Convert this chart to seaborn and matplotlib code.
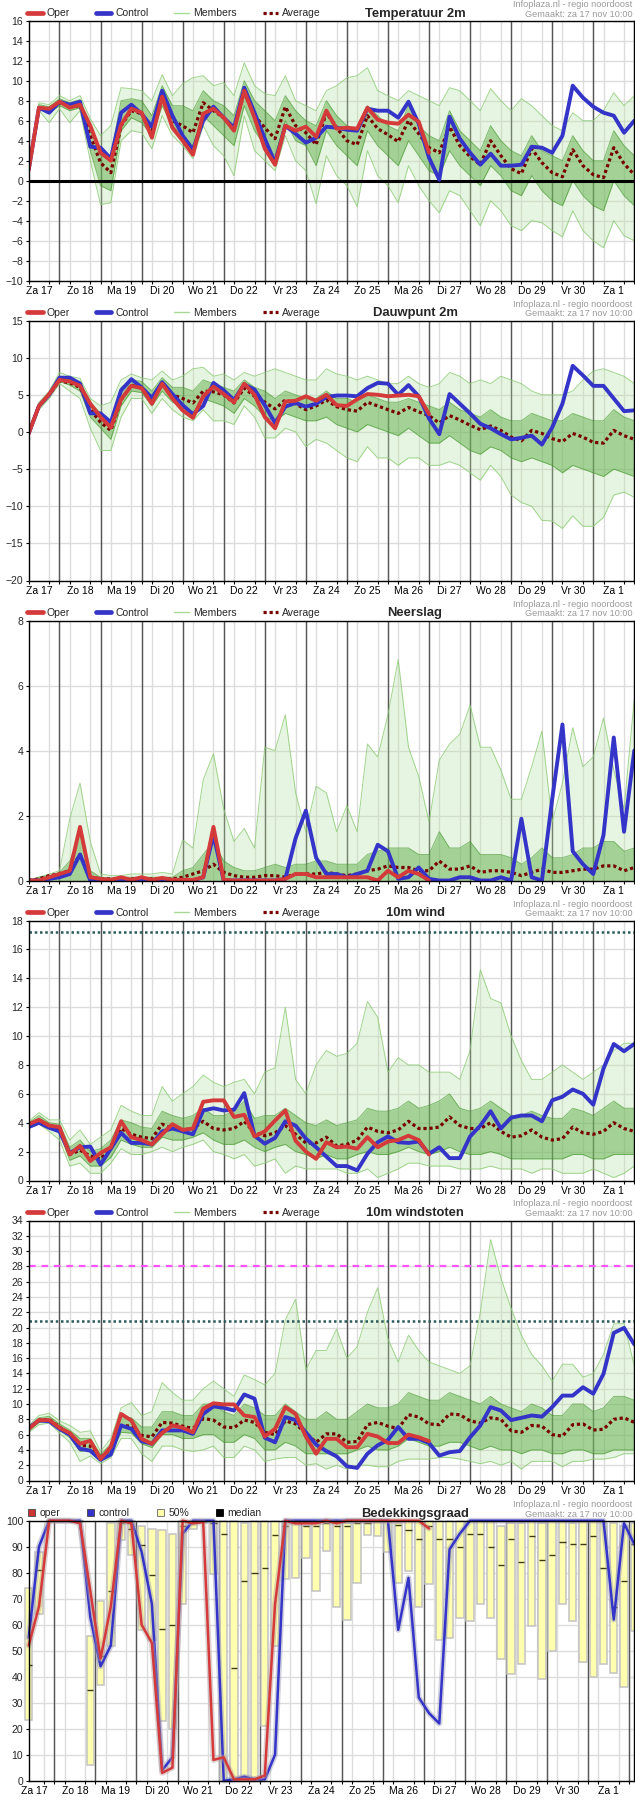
import numpy as np
import matplotlib
matplotlib.use("Agg")
import matplotlib.pyplot as plt
import seaborn as sns
from matplotlib.patches import Patch
from matplotlib.lines import Line2D
import matplotlib.patheffects as pe

# ---------------- data ----------------
DAYS = ["Za 17", "Zo 18", "Ma 19", "Di 20", "Wo 21", "Do 22", "Vr 23", "Za 24",
        "Zo 25", "Ma 26", "Di 27", "Wo 28", "Do 29", "Vr 30", "Za 1"]
HEADER1 = "Infoplaza.nl - regio noordoost"
HEADER2 = "Gemaakt: za 17 nov 10:00"

# Temperatuur 2m
T_OPER = [1.1, 7.3, 7.2, 7.9, 7.3, 7.6, 5.5, 2.8, 2.0, 5.6, 7.2, 6.8, 4.3, 8.4, 5.3, 4.0, 2.6, 6.7, 7.2, 6.3,
          5.0, 9.0, 6.3, 3.2, 1.6, 5.5, 5.0, 5.4, 4.4, 7.0, 5.2, 5.3, 5.2, 7.3, 6.1, 5.8, 5.7, 6.6, 5.9, 2.8]
T_CTRL = [1.1, 7.3, 6.8, 7.9, 7.6, 7.9, 3.4, 3.3, 2.2, 6.8, 7.6, 6.7, 5.4, 9.0, 6.5, 4.5, 3.1, 6.0, 7.4, 6.3,
          5.3, 9.3, 6.8, 4.2, 1.8, 5.5, 4.7, 3.8, 4.3, 5.4, 5.3, 5.1, 5.0, 7.2, 7.0, 7.0, 6.3, 7.9, 5.7, 2.3,
          0.1, 6.4, 4.2, 2.8, 1.6, 2.7, 1.5, 1.5, 1.6, 3.4, 3.3, 2.8, 4.5, 9.5, 8.3, 7.4, 6.8, 6.5, 4.8, 6.0]
T_AVG = [1.1, 7.3, 7.0, 7.8, 7.4, 7.5, 4.5, 1.8, 0.8, 5.5, 7.0, 6.7, 5.0, 8.3, 6.0, 5.5, 4.8, 7.8, 7.0, 6.3,
         5.2, 8.8, 6.5, 5.3, 4.2, 7.4, 5.5, 4.8, 3.6, 6.8, 5.3, 4.0, 3.6, 6.5, 5.2, 4.6, 3.9, 6.0, 4.7, 3.3,
         2.8, 5.4, 3.5, 2.4, 1.6, 4.0, 2.5, 1.2, 0.7, 3.2, 1.8, 0.8, 0.4, 3.1, 1.5, 0.6, 0.3, 3.3, 1.7, 0.6]
T_MIN = [0.9, 7.0, 5.8, 7.2, 5.8, 7.0, 2.0, -2.4, -2.2, 4.0, 5.0, 4.8, 3.2, 6.5, 4.5, 3.5, 2.2, 5.5, 3.5, 2.5,
         0.5, 6.5, 3.0, 2.0, 1.0, 4.5, 2.0, 1.0, -2.3, 2.5, 0.5, -0.5, -2.6, 3.0, 0.5, -0.5, -2.2, 1.5, -0.5, -2.0,
         -3.2, -1.0, -1.5, -3.0, -4.5, -2.0, -3.0, -4.5, -5.0, -4.0, -4.2, -5.0, -5.6, -3.0, -5.0, -6.0, -6.7, -4.0, -5.5, -6.0]
T_MAX = [1.3, 7.8, 7.6, 8.5, 8.0, 8.5, 6.2, 4.5, 5.5, 9.3, 9.2, 9.0, 8.0, 10.6, 8.5, 9.7, 10.3, 10.5, 9.5, 9.8,
         8.5, 11.8, 9.5, 8.7, 8.5, 10.5, 8.0, 7.5, 7.0, 9.0, 9.5, 10.3, 10.5, 11.3, 9.0, 8.5, 8.0, 9.0, 8.5, 8.0,
         7.5, 9.3, 9.0, 8.0, 7.0, 9.2, 8.0, 7.0, 8.2, 7.5, 6.5, 5.5, 5.0, 6.8, 6.0, 6.0, 7.0, 8.8, 7.5, 8.5]
T_LO = [1.0, 7.1, 6.8, 7.5, 7.0, 7.3, 3.0, -0.5, -1.0, 5.0, 6.3, 5.8, 4.5, 7.5, 5.5, 4.5, 3.5, 6.5, 5.5, 4.5,
        3.5, 7.5, 5.0, 3.5, 2.5, 6.0, 4.0, 3.5, 1.5, 5.0, 3.5, 2.5, 1.5, 5.0, 3.5, 2.5, 1.5, 4.0, 2.5, 1.0,
        0.5, 3.0, 1.5, 0.5, -0.5, 1.5, 0.5, -1.0, -1.5, 0.5, -1.0, -2.0, -2.5, 0.0, -1.5, -2.5, -3.0, 0.0, -1.5, -2.5]
T_HI = [1.2, 7.6, 7.4, 8.2, 7.8, 8.1, 5.5, 3.0, 2.5, 8.0, 8.2, 8.0, 6.5, 9.5, 7.5, 7.5, 7.0, 9.0, 8.0, 7.5,
        6.5, 10.0, 8.0, 7.0, 6.0, 8.5, 7.0, 6.0, 5.5, 8.0, 6.5, 5.5, 5.0, 7.5, 6.5, 5.5, 5.0, 7.5, 5.5, 4.5,
        4.0, 7.0, 5.0, 4.0, 3.0, 5.5, 4.0, 3.0, 2.5, 4.5, 3.0, 2.5, 2.0, 4.5, 3.0, 2.0, 2.0, 5.0, 3.5, 2.5]

# Dauwpunt 2m
D_OPER = [-0.2, 3.5, 5.1, 7.0, 6.8, 6.2, 3.8, 2.0, 0.6, 4.4, 6.2, 5.9, 3.8, 6.5, 4.5, 2.9, 1.9, 4.8, 6.1, 5.1,
          4.0, 6.5, 5.0, 2.0, 0.5, 4.1, 4.2, 4.8, 4.2, 5.0, 3.6, 3.5, 4.4, 5.1, 5.0, 4.8, 4.9, 5.0, 4.8, 2.4]
D_CTRL = [-0.2, 3.5, 5.0, 7.3, 7.3, 6.5, 2.5, 2.5, 1.3, 5.6, 7.1, 6.0, 4.6, 6.7, 5.1, 3.6, 2.4, 3.5, 6.6, 5.6,
          4.3, 6.4, 5.7, 3.6, 1.2, 3.4, 3.9, 3.4, 3.8, 4.7, 4.9, 4.9, 4.8, 5.9, 6.6, 6.5, 5.0, 6.3, 4.8, 1.8,
          -0.3, 5.1, 3.8, 2.5, 1.1, 0.5, -0.3, -1.0, -0.8, -0.5, -1.7, 0.6, 3.8, 8.9, 7.6, 6.2, 6.2, 4.5, 2.8, 2.9]
D_AVG = [-0.2, 3.5, 5.0, 6.9, 6.6, 6.0, 3.0, 1.3, 0.2, 4.3, 6.3, 5.9, 4.0, 6.4, 5.0, 4.5, 3.9, 5.5, 5.4, 5.0,
         3.9, 5.9, 4.8, 4.0, 3.1, 4.3, 3.8, 3.0, 3.5, 4.3, 3.4, 3.0, 2.8, 4.0, 3.5, 3.0, 2.5, 3.3, 2.7, 2.2,
         1.2, 2.2, 1.6, 0.9, 0.3, 0.8, 0.2, -0.7, -1.2, 0.2, -0.2, -0.9, -1.3, -0.2, -0.7, -1.4, -1.5, 0.2, -0.5, -1.0]
D_MIN = [-0.4, 3.0, 4.5, 6.5, 5.5, 4.5, 0.5, -2.5, -2.5, 2.0, 4.5, 4.5, 2.5, 4.5, 3.0, 2.0, 1.5, 3.0, 1.5, 1.5,
         1.0, 3.5, 2.0, -0.8, -0.8, 0.5, 0.0, -2.0, -1.0, -1.5, -2.5, -3.5, -4.0, -2.0, -3.5, -3.5, -4.5, -3.5, -3.5, -4.5,
         -4.5, -4.0, -4.5, -5.5, -6.5, -4.5, -6.0, -8.5, -9.5, -10.0, -11.9, -12.0, -13.0, -11.3, -12.7, -12.7, -11.5, -8.5, -8.1, -8.8]
D_MAX = [0.0, 4.0, 5.5, 8.0, 7.5, 7.2, 4.5, 3.5, 4.0, 7.0, 7.8, 7.3, 7.0, 8.2, 7.0, 7.5, 8.5, 8.7, 7.5, 7.8,
         7.0, 8.0, 7.5, 8.0, 8.5, 8.0, 7.5, 7.0, 7.0, 8.5, 7.8, 7.5, 7.0, 7.5, 7.0, 6.5, 6.5, 7.5, 6.5, 6.0,
         6.5, 8.0, 7.5, 6.5, 7.0, 6.5, 7.5, 7.0, 6.5, 5.5, 5.0, 5.0, 5.0, 5.5, 7.0, 8.2, 8.5, 8.0, 7.5, 6.5]
D_LO = [-0.3, 3.3, 4.8, 6.8, 6.3, 5.5, 2.0, 0.5, -1.0, 3.5, 5.5, 5.3, 3.5, 5.5, 4.0, 3.5, 2.5, 4.5, 4.0, 3.5,
        2.5, 4.5, 3.5, 2.0, 1.5, 2.5, 2.0, 1.5, 1.5, 2.0, 1.0, 0.5, 0.0, 1.0, 0.5, 0.0, -0.5, 0.5, -0.5, -1.5,
        -1.5, -0.5, -1.5, -2.5, -3.0, -2.0, -2.5, -3.5, -4.0, -3.5, -4.0, -4.5, -5.5, -4.5, -5.0, -5.5, -6.0, -5.0, -5.5, -6.0]
D_HI = [-0.1, 3.8, 5.3, 7.5, 7.2, 6.8, 4.0, 2.5, 1.5, 6.0, 7.0, 6.8, 5.5, 7.3, 6.0, 6.0, 5.5, 7.0, 6.5, 6.0,
        5.5, 7.0, 6.0, 5.5, 4.5, 5.5, 5.0, 4.5, 4.5, 5.5, 4.5, 4.5, 4.0, 5.0, 4.5, 4.0, 4.0, 4.5, 4.0, 3.5,
        3.0, 4.0, 3.0, 2.5, 2.0, 3.0, 2.0, 1.5, 1.5, 2.5, 2.0, 1.5, 1.5, 2.5, 2.0, 1.5, 1.5, 3.0, 2.0, 1.5]

# Neerslag (members start at 0 mm everywhere)
P_OPER = [0.0, 0.0, 0.1, 0.2, 0.3, 1.65, 0.1, 0.05, 0.02, 0.1, 0.02, 0.1, 0.02, 0.08, 0.02, 0.02, 0.02, 0.1, 1.65, 0.02,
          0.0, 0.0, 0.0, 0.0, 0.0, 0.05, 0.2, 0.2, 0.1, 0.1, 0.1, 0.1, 0.1, 0.1, 0.0, 0.3, 0.1, 0.3, 0.2, 0.0]
P_CTRL = [0.0, 0.0, 0.05, 0.1, 0.2, 0.8, 0.0, 0.0, 0.0, 0.05, 0.0, 0.05, 0.0, 0.0, 0.0, 0.0, 0.0, 0.1, 1.4, 0.0,
          0.0, 0.0, 0.0, 0.0, 0.0, 0.05, 1.3, 2.15, 0.7, 0.2, 0.2, 0.1, 0.2, 0.3, 1.1, 0.9, 0.05, 0.1, 0.4, 0.05,
          0.0, 0.0, 0.1, 0.1, 0.0, 0.0, 0.1, 0.0, 1.9, 0.1, 0.0, 2.5, 4.8, 0.9, 0.5, 0.2, 1.4, 4.4, 1.5, 4.0]
P_AVG = [0.0, 0.05, 0.15, 0.2, 0.3, 0.8, 0.1, 0.05, 0.05, 0.05, 0.05, 0.05, 0.05, 0.05, 0.05, 0.1, 0.2, 0.3, 0.5, 0.25,
         0.15, 0.1, 0.1, 0.15, 0.15, 0.1, 0.2, 0.2, 0.2, 0.25, 0.2, 0.15, 0.2, 0.3, 0.35, 0.45, 0.4, 0.4, 0.3, 0.3,
         0.6, 0.35, 0.35, 0.45, 0.25, 0.3, 0.3, 0.25, 0.15, 0.25, 0.35, 0.25, 0.25, 0.3, 0.35, 0.35, 0.45, 0.45, 0.3, 0.4]
P_MAX = [0.0, 0.1, 0.2, 0.3, 1.9, 3.0, 1.2, 0.2, 0.15, 0.15, 0.2, 0.2, 0.2, 0.25, 0.2, 1.25, 1.0, 3.1, 3.9, 2.2,
         1.2, 1.6, 1.0, 4.1, 4.0, 5.1, 2.7, 1.5, 2.9, 2.7, 1.5, 2.3, 1.5, 4.2, 3.8, 5.1, 6.8, 4.1, 3.2, 1.8,
         3.7, 4.2, 4.5, 5.4, 4.1, 4.1, 3.4, 2.5, 2.5, 3.5, 4.6, 1.8, 3.0, 4.7, 3.5, 3.8, 5.0, 3.4, 2.2, 5.6]
P_HI = [0.0, 0.1, 0.15, 0.25, 0.6, 1.4, 0.3, 0.1, 0.08, 0.1, 0.1, 0.1, 0.1, 0.1, 0.1, 0.3, 0.4, 0.8, 1.2, 0.6,
        0.4, 0.3, 0.3, 0.4, 0.5, 0.4, 0.5, 0.5, 0.6, 0.6, 0.5, 0.5, 0.5, 0.8, 0.9, 1.0, 1.0, 1.0, 0.8, 0.8,
        1.5, 1.0, 1.0, 1.2, 0.8, 0.8, 0.8, 0.7, 0.5, 0.7, 1.0, 0.7, 0.7, 0.8, 1.0, 1.0, 1.2, 1.2, 0.9, 1.0]
P_BASE = 0.0

# 10m wind
W_OPER = [3.9, 4.2, 3.8, 3.7, 1.8, 2.4, 1.35, 1.9, 2.3, 4.1, 3.0, 2.8, 2.5, 3.2, 3.9, 3.5, 3.6, 5.45, 5.55, 5.55,
          4.4, 4.55, 3.05, 3.4, 4.15, 4.85, 2.75, 2.0, 1.5, 2.65, 2.3, 2.35, 2.2, 3.0, 2.3, 2.7, 2.8, 3.1, 2.8, 1.8]
W_CTRL = [3.7, 4.0, 3.65, 3.4, 1.9, 2.3, 2.35, 1.1, 2.2, 3.3, 2.6, 2.6, 2.5, 3.4, 3.6, 3.4, 3.2, 4.85, 5.0, 4.85,
          4.9, 6.05, 3.1, 2.55, 2.95, 4.1, 3.8, 2.9, 2.3, 1.65, 1.0, 1.0, 0.7, 1.85, 2.65, 3.05, 2.65, 2.6, 2.7, 1.85,
          2.3, 1.55, 1.55, 3.05, 3.8, 4.8, 3.6, 4.35, 4.5, 4.5, 4.1, 5.55, 5.8, 6.3, 6.0, 5.25, 7.75, 9.45, 8.95, 9.45]
W_AVG = [3.9, 4.2, 3.8, 3.6, 1.8, 2.1, 1.7, 1.5, 2.2, 3.6, 3.2, 3.0, 2.9, 3.9, 3.6, 3.5, 3.6, 4.1, 3.6, 3.5,
         3.6, 4.1, 3.3, 3.1, 3.3, 3.8, 3.2, 2.6, 2.6, 3.0, 2.4, 2.5, 2.8, 3.7, 3.4, 3.3, 3.5, 4.1, 3.6, 3.6,
         3.7, 4.4, 3.8, 3.6, 3.6, 4.0, 3.4, 3.0, 3.1, 3.5, 3.0, 2.8, 2.9, 3.7, 3.3, 3.2, 3.4, 4.0, 3.6, 3.4]
W_MIN = [3.6, 3.9, 3.4, 2.8, 1.0, 1.2, 0.5, 0.5, 1.2, 2.2, 1.8, 1.8, 2.0, 2.3, 2.0, 2.3, 2.5, 2.8, 2.0, 1.8,
         1.5, 1.8, 1.0, 1.2, 1.5, 0.5, 1.0, 0.8, 0.8, 0.8, 0.8, 0.5, 0.5, 0.8, 0.2, 0.5, 0.8, 1.2, 1.2, 1.0,
         1.0, 1.0, 0.8, 0.8, 0.8, 1.0, 0.8, 0.8, 0.8, 0.5, 0.8, 0.8, 0.5, 0.5, 0.5, 0.8, 0.5, 0.2, 0.5, 1.0]
W_MAX = [4.1, 4.7, 4.2, 4.2, 2.8, 3.5, 2.5, 3.0, 3.5, 5.2, 4.8, 4.5, 4.5, 6.5, 5.5, 6.0, 6.5, 7.3, 6.8, 6.5,
         6.8, 7.0, 6.0, 7.5, 7.8, 12.0, 7.0, 6.0, 8.0, 9.0, 8.6, 8.8, 9.5, 12.4, 11.3, 7.5, 8.5, 8.0, 8.0, 7.5,
         7.5, 7.5, 7.0, 9.0, 14.6, 12.6, 12.3, 10.0, 8.3, 7.0, 7.0, 7.5, 8.0, 7.5, 7.0, 7.5, 8.0, 9.0, 9.5, 9.5]
W_LO = [3.7, 4.0, 3.6, 3.3, 1.4, 1.7, 1.0, 1.0, 1.6, 2.8, 2.5, 2.3, 2.3, 3.0, 2.8, 2.8, 3.0, 3.3, 2.8, 2.5,
        2.5, 2.8, 2.3, 2.0, 2.3, 2.5, 2.0, 1.8, 1.5, 1.8, 1.5, 1.5, 1.8, 2.0, 1.8, 1.8, 2.0, 2.3, 2.0, 1.8,
        2.0, 2.3, 2.0, 1.8, 1.8, 2.0, 1.8, 1.5, 1.5, 1.5, 1.5, 1.5, 1.5, 1.8, 1.8, 1.5, 1.5, 1.8, 1.8, 1.8]
W_HI = [4.0, 4.5, 4.0, 3.9, 2.3, 2.8, 2.0, 2.2, 2.8, 4.2, 4.0, 3.7, 3.6, 4.8, 4.5, 4.3, 4.5, 5.0, 4.5, 4.5,
        4.8, 5.5, 4.3, 4.5, 4.5, 5.0, 4.5, 4.0, 3.8, 4.2, 3.8, 4.0, 4.2, 5.0, 4.8, 4.8, 5.0, 5.5, 5.0, 5.2,
        5.5, 6.0, 5.0, 4.8, 5.0, 5.5, 5.0, 4.5, 4.5, 4.8, 4.5, 4.3, 4.3, 5.0, 4.8, 4.5, 5.0, 5.5, 5.0, 5.0]
WIND_LIMIT = 17.2

# 10m windstoten
G_OPER = [6.75, 7.9, 7.9, 6.9, 6.2, 4.8, 5.2, 2.8, 4.4, 8.7, 7.85, 5.45, 4.8, 6.2, 7.2, 6.9, 6.3, 9.4, 10.1, 9.95,
          9.95, 8.5, 8.3, 5.75, 6.75, 9.6, 8.7, 5.75, 3.5, 5.45, 5.45, 4.35, 4.35, 6.1, 5.75, 4.9, 4.9, 6.0, 5.65, 5.15]
G_CTRL = [6.9, 7.85, 7.75, 6.75, 6.0, 4.15, 3.9, 2.7, 3.4, 7.2, 6.75, 5.15, 4.8, 6.55, 6.55, 6.55, 6.1, 8.7, 9.7, 9.5,
          9.15, 11.25, 10.7, 5.6, 5.0, 8.3, 7.9, 6.3, 4.7, 3.85, 3.15, 1.85, 1.65, 3.5, 4.6, 5.3, 7.0, 5.45, 5.45, 4.9,
          3.25, 3.7, 3.85, 5.65, 7.2, 9.6, 9.15, 7.9, 8.2, 8.5, 8.35, 9.6, 11.1, 11.1, 12.2, 11.35, 13.95, 19.3, 19.95, 17.8]
G_AVG = [6.8, 7.9, 8.0, 7.0, 6.0, 4.6, 4.5, 3.0, 4.1, 7.2, 7.1, 5.9, 5.7, 7.6, 7.5, 7.1, 6.8, 8.1, 7.9, 7.0,
         6.9, 7.9, 7.6, 6.3, 6.0, 7.8, 7.4, 6.2, 5.0, 6.1, 6.1, 5.0, 5.1, 7.3, 7.6, 7.1, 6.8, 8.6, 8.3, 7.4,
         7.3, 8.7, 8.6, 7.8, 7.5, 8.2, 8.0, 6.5, 6.3, 7.2, 7.1, 6.0, 5.8, 7.3, 7.4, 6.6, 6.7, 8.0, 8.2, 7.6]
G_MIN = [6.3, 7.3, 7.5, 6.2, 5.0, 2.5, 3.2, 2.2, 3.0, 5.5, 5.5, 3.5, 2.5, 4.5, 4.5, 4.0, 3.8, 4.0, 4.5, 3.0,
         3.0, 4.5, 4.0, 2.5, 2.8, 3.0, 3.0, 2.0, 2.2, 1.5, 2.0, 1.5, 2.0, 2.0, 1.8, 1.8, 2.5, 2.8, 2.8, 2.8,
         3.0, 3.0, 2.8, 2.5, 2.2, 2.5, 2.0, 2.5, 1.5, 2.5, 2.5, 2.5, 1.8, 2.5, 2.5, 2.8, 2.8, 3.0, 3.5, 3.5]
G_MAX = [7.2, 8.5, 8.8, 7.8, 7.2, 6.3, 6.5, 3.8, 5.5, 9.5, 10.2, 8.5, 9.0, 12.8, 11.5, 10.5, 10.5, 12.0, 13.0, 12.0,
         11.0, 13.8, 13.2, 12.5, 14.0, 21.0, 23.7, 14.5, 17.0, 17.0, 19.8, 16.0, 17.5, 22.0, 25.2, 18.5, 15.5, 19.0, 17.0, 15.5,
         15.0, 14.5, 14.0, 15.0, 22.0, 31.5, 26.5, 22.5, 19.0, 16.5, 15.0, 13.0, 15.2, 15.2, 13.5, 14.0, 16.5, 20.5, 20.5, 15.0]
G_LO = [6.5, 7.6, 7.8, 6.6, 5.6, 3.8, 4.0, 2.6, 3.5, 6.3, 6.2, 4.8, 4.3, 6.0, 6.0, 5.5, 5.5, 6.0, 6.0, 5.0,
        5.0, 6.0, 5.5, 4.0, 4.0, 5.0, 4.5, 3.5, 3.5, 3.5, 3.5, 3.5, 4.0, 4.5, 4.0, 4.0, 4.5, 5.5, 5.0, 4.5,
        4.5, 5.0, 5.0, 4.5, 4.0, 4.5, 4.0, 4.0, 3.5, 4.0, 4.0, 3.5, 3.5, 4.0, 4.0, 3.5, 3.5, 4.0, 4.0, 4.0]
G_HI = [7.0, 8.2, 8.4, 7.4, 6.6, 5.5, 5.5, 3.4, 4.8, 8.3, 8.2, 7.0, 7.0, 9.0, 9.0, 8.5, 8.5, 10.0, 10.0, 9.0,
        8.5, 10.0, 9.5, 8.5, 8.5, 10.0, 9.0, 8.0, 8.0, 9.0, 8.0, 8.0, 9.0, 10.0, 9.5, 9.5, 10.0, 11.5, 11.0, 10.5,
        10.5, 11.5, 11.0, 10.5, 10.0, 11.0, 10.0, 9.5, 9.0, 10.0, 9.5, 8.5, 8.5, 10.0, 10.0, 9.0, 9.5, 11.0, 11.0, 10.5]
GUST_LIMIT = 20.8
GUST_STORM = 28.0

# Bedekkingsgraad
C_OPER = [52, 67, 100, 100, 100, 99, 73, 47, 67, 100, 99, 60, 53, 3, 5, 100, 99, 99.5, 8, 9,
          0.5, 0.5, 0.5, 2, 68, 100, 99, 99, 99, 100, 99, 100, 100, 100, 100, 100, 100, 100, 100, 97]
C_CTRL = [55, 90, 100, 100, 100, 100, 63, 44, 52, 100, 100, 88, 68, 4, 9, 95, 100, 100, 100, 0,
          0.5, 1.5, 0.5, 0.5, 10, 100, 100, 100, 100, 100, 100, 100, 100, 100, 100, 100, 58, 78, 32, 26,
          22, 89, 95, 100, 100, 100, 100, 100, 100, 100, 100, 100, 100, 100, 100, 100, 100, 62, 99, 91]
C_LOW = [23.5, 64, 100, 100, 100, 100, 6, 37, 52, 92.5, 87, 58, 54, 23, 20, 68, 97, 99, 79.5, 0,
         0, 2, 1, 21, 52, 77.5, 78, 85.5, 73, 88.5, 67, 62, 76, 94.5, 94, 88, 76, 80.5, 67, 75.5,
         54, 55, 62.5, 61.5, 68, 62.5, 47, 41, 45, 59.5, 39, 50, 68, 61.5, 45.5, 40, 45, 41.5, 36, 57.5]
C_HIGH = [74, 88, 100, 100, 100, 100, 55.5, 69, 99, 100, 100, 98, 97, 96.5, 95, 100, 100, 100, 100, 100,
          100, 99, 100, 100, 100, 100, 100, 98, 99, 100, 99, 99, 99.5, 100, 100, 100, 99, 100, 100, 100,
          100, 100, 100, 100, 100, 100, 98, 99, 99, 100, 99, 100, 100, 99, 100, 100, 99, 99, 98, 99]
C_MED = [44.5, 81, 100, 100, 100, 100, 35, 48, 73, 99, 97, 90.5, 79, 58.5, 60, 98, 99, 100, 99, 95,
         43.5, 77, 80, 82, 94.5, 98, 99, 98, 98, 99, 98, 98, 99, 99, 100, 100, 98.5, 96.5, 93, 98,
         93, 93, 90, 95, 95, 90, 83, 93, 84, 94, 85, 87, 92, 91, 91, 94, 82, 67, 77, 91]

# ---------------- style ----------------
sns.set_style("white")
plt.rcParams["font.family"] = ["Liberation Sans", "DejaVu Sans"]

RED = "#d43a3a"
BLUE = "#3434c8"
AVG_C = "#780000"
GRID_C = "#dcdcdc"
DAY_C = "#555555"
FS = 7.5

W_PX, H_PX = 635, 1800
fig = plt.figure(figsize=(W_PX / 100, H_PX / 100), dpi=100)
fig.patch.set_facecolor("white")

AX_L, AX_R, AX_H = 28.7, 634.3, 260.0
TOPS = [20.7, 320.5, 620.5, 920.5, 1220.5, 1520.7]
NSTEP = len(T_CTRL)


def make_ax(top):
    return fig.add_axes([AX_L / W_PX, 1 - (top + AX_H) / H_PX, (AX_R - AX_L) / W_PX, AX_H / H_PX])


def frame(ax, ylim, yticks, minor_x, day_x, label_x):
    ax.set_xlim(0, NSTEP - 1)
    ax.set_ylim(*ylim)
    ax.set_yticks(yticks)
    ax.set_xticks(label_x)
    ax.set_xticklabels(DAYS)
    ax.set_xticks(minor_x, minor=True)
    ax.set_axisbelow(True)
    ax.grid(False)
    ax.grid(True, which="minor", axis="x", color=GRID_C, lw=1.0, zorder=0)
    ax.grid(True, which="major", axis="y", color=GRID_C, lw=1.0, zorder=0)
    for d in day_x:
        ax.axvline(d, color=DAY_C, lw=1.0, zorder=1)
    ax.tick_params(axis="x", which="major", length=0, pad=4, labelsize=FS, colors="black")
    ax.tick_params(axis="x", which="minor", length=2.5, width=0.8, direction="out", color="black", bottom=True)
    ax.tick_params(axis="y", which="major", length=2.5, width=0.8, direction="out", pad=1.5,
                   labelsize=FS, left=True, color="black")
    for s in ax.spines.values():
        s.set_color("black")
        s.set_linewidth(1.0)
        s.set_zorder(6)
    ax.set_xlabel("")
    ax.set_ylabel("")


def header(ax, title):
    ax.text((415 - AX_L) / (AX_R - AX_L), 1 + 7.2 / AX_H, title, transform=ax.transAxes,
            ha="center", va="center", fontsize=9.4, fontweight="bold")
    ax.text((632.5 - AX_L) / (AX_R - AX_L), 1 + 16.5 / AX_H, HEADER1, transform=ax.transAxes,
            ha="right", va="center", fontsize=6.6, color="#9a9a9a")
    ax.text((632.5 - AX_L) / (AX_R - AX_L), 1 + 6.6 / AX_H, HEADER2, transform=ax.transAxes,
            ha="right", va="center", fontsize=6.6, color="#9a9a9a")


def ens_legend(ax):
    handles = [Line2D([], [], color=RED, lw=3.4),
               Line2D([], [], color=BLUE, lw=3.4),
               Line2D([], [], color="#a6da94", lw=1.0),
               Line2D([], [], color=AVG_C, lw=2.3, ls=(0, (1, 0.9)))]
    ax.legend(handles, ["Oper", "Control", "Members", "Average"], loc="center left",
              bbox_to_anchor=(-0.002, 1 + 7.5 / AX_H), ncol=4, frameon=False, fontsize=FS,
              handlelength=1.45, handletextpad=0.42, columnspacing=2.45, borderpad=0, borderaxespad=0)


steps = np.arange(NSTEP)
minor_main = steps
day_main = np.arange(3, NSTEP - 1, 4)
label_main = np.arange(1, NSTEP, 4)


def ens_panel(top, title, oper, ctrl, avg, lo, hi, mn, mx, ylim, yticks):
    ax = make_ax(top)
    frame(ax, ylim, yticks, minor_main, day_main, label_main)
    x = steps
    ax.fill_between(x, mn, mx, color="#b4e0a2", alpha=0.32, lw=0, zorder=2)
    ax.fill_between(x, lo, hi, color="#55a83c", alpha=0.45, lw=0, zorder=2.1)
    for arr in (mn, mx):
        sns.lineplot(x=x, y=arr, ax=ax, color="#8acb72", lw=0.7, alpha=0.8, zorder=2.2)
    for arr in (lo, hi):
        sns.lineplot(x=x, y=arr, ax=ax, color="#3b9424", lw=0.7, alpha=0.6, zorder=2.2)
    sns.lineplot(x=x, y=avg, ax=ax, color=AVG_C, lw=2.3, linestyle=(0, (1, 0.9)), zorder=3.5)
    sns.lineplot(x=x[:len(ctrl)], y=ctrl, ax=ax, color=BLUE, lw=2.8, zorder=4)
    sns.lineplot(x=x[:len(oper)], y=oper, ax=ax, color=RED, lw=2.8, zorder=4.5)
    ax.set_xlabel("")
    ax.set_ylabel("")
    ens_legend(ax)
    header(ax, title)
    return ax


# Panel 1
ax1 = ens_panel(TOPS[0], "Temperatuur 2m", T_OPER, T_CTRL, T_AVG, T_LO, T_HI, T_MIN, T_MAX,
                (-10, 16), np.arange(-10, 17, 2))
ax1.axhline(0, color="black", lw=2.2, zorder=3)

# Panel 2
ens_panel(TOPS[1], "Dauwpunt 2m", D_OPER, D_CTRL, D_AVG, D_LO, D_HI, D_MIN, D_MAX,
          (-20, 15), np.arange(-20, 16, 5))

# Panel 3
p_base = np.full(NSTEP, P_BASE)
ens_panel(TOPS[2], "Neerslag", P_OPER, P_CTRL, P_AVG, p_base, P_HI, p_base, P_MAX,
          (0, 8), np.arange(0, 9, 2))

# Panel 4
ax4 = ens_panel(TOPS[3], "10m wind", W_OPER, W_CTRL, W_AVG, W_LO, W_HI, W_MIN, W_MAX,
                (0, 18), np.arange(0, 19, 2))
ax4.axhline(WIND_LIMIT, color="#2b5a5a", lw=1.8, ls=(0, (1, 1.1)), zorder=3)

# Panel 5
ax5 = ens_panel(TOPS[4], "10m windstoten", G_OPER, G_CTRL, G_AVG, G_LO, G_HI, G_MIN, G_MAX,
                (0, 34), np.arange(0, 35, 2))
ax5.axhline(GUST_STORM, color="#ff55ff", lw=1.6, ls=(0, (3, 2.6)), zorder=3)
ax5.axhline(GUST_LIMIT, color="#2b5a5a", lw=1.8, ls=(0, (1, 1.1)), zorder=3)

# Panel 6: cloud cover
ax6 = make_ax(TOPS[5])
frame(ax6, (0, 100), np.arange(0, 101, 10), np.arange(0.5, NSTEP - 1, 1),
      np.arange(2.5, NSTEP, 4), np.arange(0.5, NSTEP, 4))
u = steps
low = np.array(C_LOW, dtype=float)
high = np.array(C_HIGH, dtype=float)
ax6.bar(u, high - low, bottom=low, width=0.72, color="#ffffb0", edgecolor="#c2c2c2",
        lw=1.1, zorder=2, clip_on=False)
ax6.hlines(C_MED, u - 0.3, u + 0.3, color="#3a3a14", lw=1.0, zorder=2.5)
halo_b = [pe.Stroke(linewidth=4.2, foreground="#9a9ab8", alpha=0.45), pe.Normal()]
halo_r = [pe.Stroke(linewidth=4.2, foreground="#b89a9a", alpha=0.45), pe.Normal()]
sns.lineplot(x=u[:len(C_CTRL)], y=C_CTRL, ax=ax6, color=BLUE, lw=1.8, zorder=4,
             path_effects=halo_b, clip_on=False)
sns.lineplot(x=u[:len(C_OPER)], y=C_OPER, ax=ax6, color=RED, lw=1.8, zorder=4.5,
             path_effects=halo_r, clip_on=False)
ax6.set_xlabel("")
ax6.set_ylabel("")
c_handles = [Patch(facecolor="#cc3333", edgecolor="#444444", lw=0.6),
             Patch(facecolor="#3333cc", edgecolor="#444444", lw=0.6),
             Patch(facecolor="#ffffaa", edgecolor="#666666", lw=0.6),
             Patch(facecolor="#000000", edgecolor="#000000", lw=0.6)]
ax6.legend(c_handles, ["oper", "control", "50%", "median"], loc="center left",
           bbox_to_anchor=(-0.001, 1 + 7.5 / AX_H), ncol=4, frameon=False, fontsize=FS,
           handlelength=0.65, handleheight=0.65, handletextpad=0.45, columnspacing=2.6,
           borderpad=0, borderaxespad=0)
header(ax6, "Bedekkingsgraad")

fig.savefig("out.png", dpi=100, facecolor="white")
